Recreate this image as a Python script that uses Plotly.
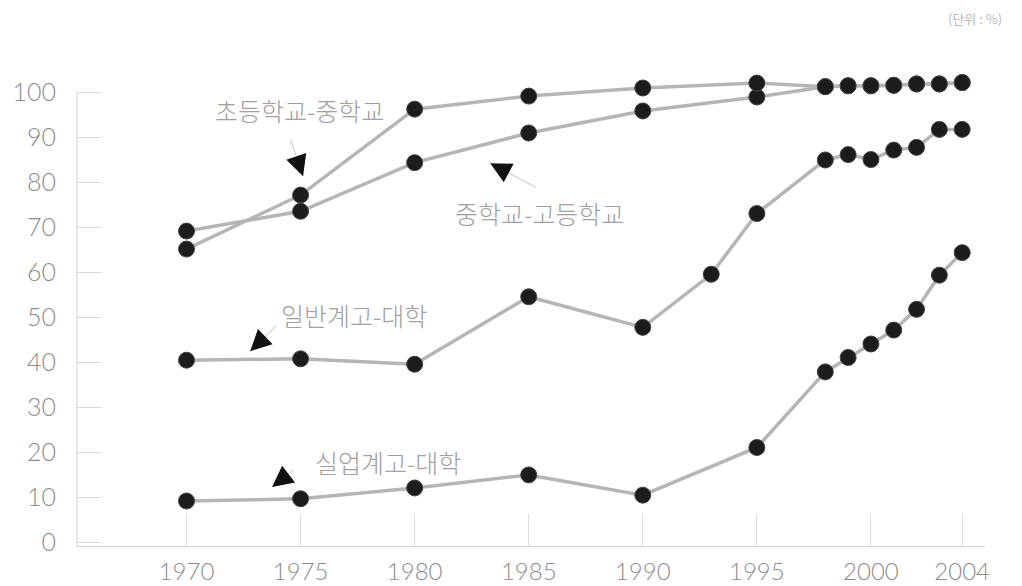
"""Advancement rate by school level, 1970-2004 (line chart with dot markers)."""

from __future__ import annotations

import plotly.graph_objects as go

# --- data (unit: %) ---
YEARS_MAIN = [1970, 1975, 1980, 1985, 1990, 1995, 1998, 1999, 2000, 2001, 2002, 2003, 2004]
YEARS_GENERAL = [1970, 1975, 1980, 1985, 1990, 1993, 1995, 1998, 1999, 2000, 2001, 2002, 2003, 2004]

ELEM_TO_MIDDLE = [65.2, 77.2, 96.3, 99.2, 101.0, 102.1, 101.3, 101.5, 101.5, 101.6, 101.9, 101.9, 102.2]
MIDDLE_TO_HIGH = [69.2, 73.6, 84.4, 91.0, 95.9, 99.0, 101.3, 101.5, 101.5, 101.6, 101.9, 101.9, 102.2]
GENERAL_TO_UNIV = [40.5, 40.8, 39.6, 54.6, 47.8, 59.6, 73.1, 85.0, 86.2, 85.1, 87.2, 87.8, 91.8, 91.8]
VOCATIONAL_TO_UNIV = [9.2, 9.7, 12.1, 15.0, 10.5, 21.1, 37.9, 41.1, 44.1, 47.2, 51.8, 59.4, 64.4]

X_TICKS = [1970, 1975, 1980, 1985, 1990, 1995, 2000, 2004]
Y_TICKS = [0, 10, 20, 30, 40, 50, 60, 70, 80, 90, 100]

SERIES_NAMES = ["초등학교-중학교", "중학교-고등학교", "일반계고-대학", "실업계고-대학"]

LINE_COLOR = "#b5b5b5"
DOT_COLOR = "#1c1c1c"
AXIS_COLOR = "#d2d2d2"
TEXT_COLOR = "#8c8c8c"
FONT = "Lato, 'Noto Sans CJK KR', sans-serif"
KR_FONT = "'Noto Sans CJK KR', sans-serif"

# label placement: (text x, text y, arrow tip x, arrow tip y, tail dx px, tail dy px)
LABELS = [
    (1974.94, 96.1, 1975.11, 81.4, -13, -38),
    (1985.46, 73.2, 1983.31, 84.3, 47, 25),
    (1977.35, 50.5, 1972.79, 42.5, 28, -27),
    (1978.84, 17.9, 1973.75, 12.3, 23, -18),
]


def _line_trace(x: list[int], y: list[float], name: str) -> go.Scatter:
    """Grey line with black dots, as in the printed chart."""

    return go.Scatter(
        x=x,
        y=y,
        name=name,
        mode="lines+markers",
        line={"color": LINE_COLOR, "width": 3.5},
        marker={"color": DOT_COLOR, "size": 16, "line": {"color": "#444", "width": 1}},
        cliponaxis=False,
        showlegend=False,
    )


def _add_label(fig: go.Figure, text: str, spec: tuple) -> None:
    """Series label plus a thin grey leader ending in a black dart."""

    tx, ty, hx, hy, dx, dy = spec
    fig.add_annotation(
        x=tx, y=ty, xref="x", yref="y", text=text, showarrow=False,
        font={"family": KR_FONT, "size": 25, "color": "#a0a0a0", "weight": 300},
    )
    # leader line
    fig.add_annotation(
        x=hx, y=hy, xref="x", yref="y", ax=dx, ay=dy, text="",
        showarrow=True, arrowhead=0, arrowwidth=1, arrowcolor="#c4c4c4",
    )
    # head
    length = (dx * dx + dy * dy) ** 0.5
    fig.add_annotation(
        x=hx, y=hy, xref="x", yref="y",
        ax=dx / length * 10, ay=dy / length * 10, text="",
        showarrow=True, arrowhead=2, arrowsize=2.1, arrowwidth=2, arrowcolor="#111",
    )


def build_chart() -> go.Figure:
    fig = go.Figure()
    fig.add_trace(_line_trace(YEARS_MAIN, MIDDLE_TO_HIGH, SERIES_NAMES[1]))
    fig.add_trace(_line_trace(YEARS_MAIN, ELEM_TO_MIDDLE, SERIES_NAMES[0]))
    fig.add_trace(_line_trace(YEARS_GENERAL, GENERAL_TO_UNIV, SERIES_NAMES[2]))
    fig.add_trace(_line_trace(YEARS_MAIN, VOCATIONAL_TO_UNIV, SERIES_NAMES[3]))

    for name, spec in zip(SERIES_NAMES, LABELS):
        _add_label(fig, name, spec)

    fig.add_annotation(
        x=0.989, y=1.13, xref="paper", yref="paper",
        xanchor="center", yanchor="middle",
        text="(단위 : %)", showarrow=False,
        font={"family": KR_FONT, "size": 13, "color": "#b8b8b8"},
    )

    # y axis line only runs up to 100
    fig.add_shape(
        type="line", xref="paper", yref="y", x0=0, x1=0, y0=-0.8, y1=100,
        line={"color": AXIS_COLOR, "width": 1},
    )

    # page body keeps its default 8px margin, so the figure is 8px smaller
    fig.update_layout(
        width=1014,
        height=578,
        margin={"l": 69, "r": 37, "t": 71, "b": 40},
        paper_bgcolor="white",
        plot_bgcolor="white",
        font={"family": FONT, "color": TEXT_COLOR},
    )
    fig.update_xaxes(
        range=[1965.2, 2005.0],
        tickvals=X_TICKS,
        ticks="inside",
        ticklen=32,
        tickcolor="#dcdcdc",
        tickwidth=1,
        showline=True,
        linecolor=AXIS_COLOR,
        linewidth=1,
        showgrid=False,
        zeroline=False,
        automargin=False,
        ticklabelstandoff=4,
        tickfont={"size": 24, "color": TEXT_COLOR, "weight": 300},
    )
    fig.update_yaxes(
        range=[-0.8, 103],
        tickvals=Y_TICKS,
        ticks="inside",
        ticklen=24,
        tickcolor="#d6d6d6",
        tickwidth=1,
        showline=False,
        showgrid=False,
        zeroline=False,
        automargin=False,
        ticklabelstandoff=20,
        tickfont={"size": 25, "color": TEXT_COLOR, "weight": 300},
    )
    return fig


if __name__ == "__main__":
    fig = build_chart()
    fig.write_html("out.html")
